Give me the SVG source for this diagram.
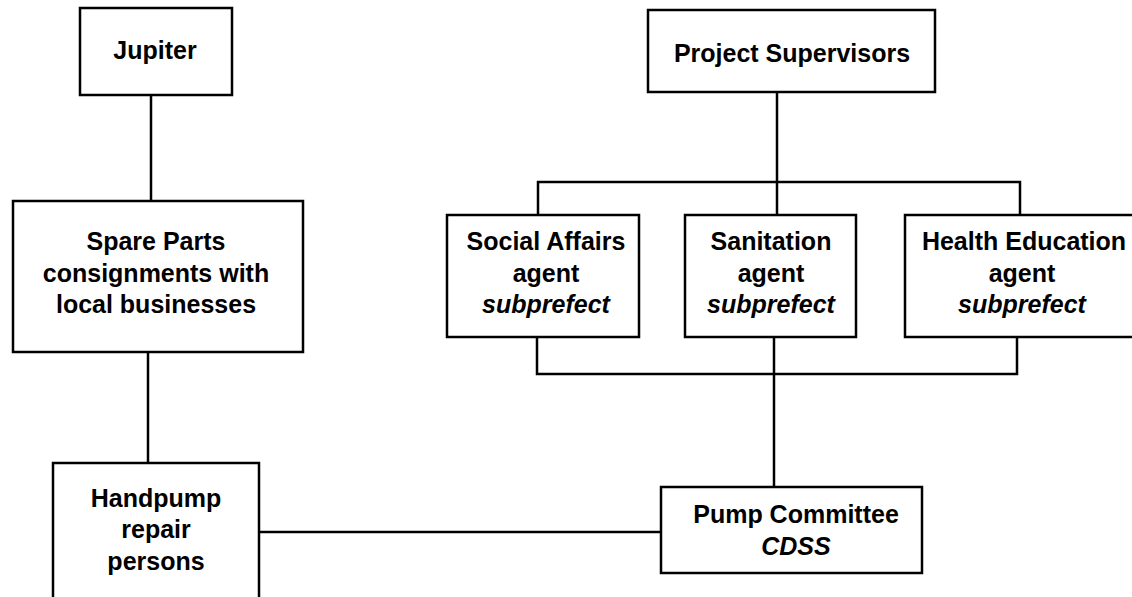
<svg xmlns="http://www.w3.org/2000/svg" width="1132" height="597" viewBox="0 0 1132 597">
<style>
.box{fill:#fff;stroke:#000;stroke-width:2.5}
.ln{fill:none;stroke:#000;stroke-width:2.5}
text{font-family:"Liberation Sans",Arial,sans-serif;font-size:25px;font-weight:bold;text-anchor:middle;fill:#000}
.it{font-style:italic}
</style>
<rect width="1132" height="597" fill="#fff"/>
<g id="connectors">
<path class="ln" d="M151,95 V201"/>
<path class="ln" d="M148,352 V463"/>
<path class="ln" d="M259,532 H661"/>
<path class="ln" d="M777,92 V215"/>
<path class="ln" d="M538,215 V182 H1020 V215"/>
<path class="ln" d="M537,337 V374 H1017 V337"/>
<path class="ln" d="M774,337 V487"/>
</g>
<g id="jupiter">
<rect class="box" x="80" y="8" width="152" height="87"/>
<text x="155" y="59">Jupiter</text>
</g>
<g id="project-supervisors">
<rect class="box" x="648" y="10" width="287" height="82"/>
<text x="792" y="62">Project Supervisors</text>
</g>
<g id="spare-parts">
<rect class="box" x="13" y="201" width="290" height="151"/>
<text x="156" y="250">Spare Parts</text>
<text x="156" y="282">consignments with</text>
<text x="156" y="313">local businesses</text>
</g>
<g id="social-affairs">
<rect class="box" x="447" y="215" width="192" height="122"/>
<text x="546" y="250">Social Affairs</text>
<text x="546" y="282">agent</text>
<text class="it" x="546" y="313">subprefect</text>
</g>
<g id="sanitation">
<rect class="box" x="685" y="215" width="171" height="122"/>
<text x="771" y="250">Sanitation</text>
<text x="771" y="282">agent</text>
<text class="it" x="771" y="313">subprefect</text>
</g>
<g id="health-education">
<rect class="box" x="905" y="215" width="240" height="122"/>
<text x="1024" y="250">Health Education</text>
<text x="1022" y="282">agent</text>
<text class="it" x="1022" y="313">subprefect</text>
</g>
<g id="handpump">
<rect class="box" x="53" y="463" width="206" height="150"/>
<text x="156" y="507">Handpump</text>
<text x="156" y="538">repair</text>
<text x="156" y="570">persons</text>
</g>
<g id="pump-committee">
<rect class="box" x="661" y="487" width="261" height="86"/>
<text x="796" y="523">Pump Committee</text>
<text class="it" x="796" y="555">CDSS</text>
</g>
</svg>
